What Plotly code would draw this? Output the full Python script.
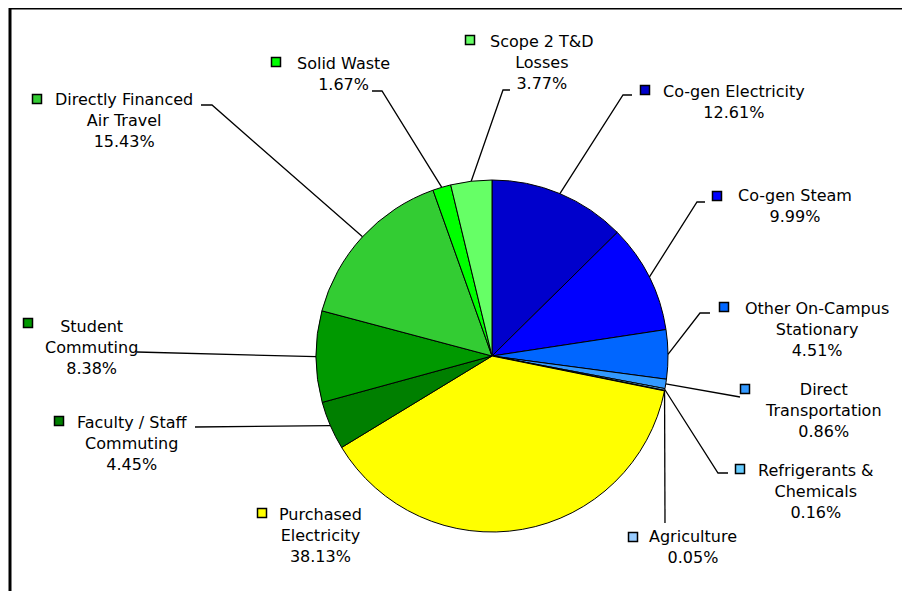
import math
import plotly.graph_objects as go

# ---------------- data ----------------
categories = [
    "Co-gen Electricity", "Co-gen Steam", "Other On-Campus Stationary",
    "Direct Transportation", "Refrigerants & Chemicals", "Agriculture",
    "Purchased Electricity", "Faculty / Staff Commuting", "Student Commuting",
    "Directly Financed Air Travel", "Solid Waste", "Scope 2 T&D Losses",
]
shares = [12.61, 9.99, 4.51, 0.86, 0.16, 0.05, 38.13, 4.45, 8.38, 15.43, 1.67, 3.77]
label_texts = [
    "Co-gen Electricity<br>12.61%",
    "Co-gen Steam<br>9.99%",
    "Other On-Campus<br>Stationary<br>4.51%",
    "Direct<br>Transportation<br>0.86%",
    "Refrigerants &<br>Chemicals<br>0.16%",
    "Agriculture<br>0.05%",
    "Purchased<br>Electricity<br>38.13%",
    "Faculty / Staff<br>Commuting<br>4.45%",
    "Student<br>Commuting<br>8.38%",
    "Directly Financed<br>Air Travel<br>15.43%",
    "Solid Waste<br>1.67%",
    "Scope 2 T&D<br>Losses<br>3.77%",
]
colors = ["#0000CC", "#0000FF", "#0066FF", "#3399FF", "#66CCFF", "#99CCFF",
          "#FFFF00", "#007F00", "#009900", "#33CC33", "#00FF00", "#66FF66"]

# ---------------- layout (pixels, page coordinates) ----------------
OFF = 8  # page body margin
W, H = 910 - OFF, 591 - OFF  # figure size so the page does not overflow
CX, CY, R = 492, 356, 176

# label block centres
label_pos = [(734, 102), (795, 206), (817, 329), (823, 411), (816, 491), (693, 547),
             (320, 535), (132, 443), (91, 347), (124, 121), (343, 74), (542, 62)]
# legend-key squares
key_pos = [(645, 90), (717, 196), (724, 307), (745, 389), (740, 469), (633, 537),
           (262, 513), (59, 421), (28, 323), (37, 99), (276, 62), (470, 40)]
# outer points of the leader lines (None = no leader line)
leader_out = [
    [(632, 95), (623, 95)],
    [(705, 202), (697, 202)],
    [(710, 313), (700, 313)],
    [(740, 397)],
    [(728, 473), (718, 473)],
    [(665, 523)],
    None,
    [(195, 427)],
    [(137, 352)],
    [(201, 105), (212, 105)],
    [(372, 91), (382, 91)],
    [(510, 90), (503, 90)],
]


def px(x, y):
    return (x - OFF) / W, 1 - (y - OFF) / H


dx0, dy0 = px(CX - R, CY + R)
dx1, dy1 = px(CX + R, CY - R)
fig = go.Figure(go.Pie(
    labels=categories, values=shares, sort=False, direction="clockwise",
    rotation=0, textinfo="none", hoverinfo="label+percent",
    marker=dict(colors=colors, line=dict(color="black", width=1)),
    domain=dict(x=[dx0, dx1], y=[dy0, dy1]),
    showlegend=False,
))

shapes = []
annotations = []
total = sum(shares)
cum = 0.0
for i, v in enumerate(shares):
    mid = (cum + v / 2) / total * 2 * math.pi
    cum += v
    ex, ey = CX + R * math.sin(mid), CY - R * math.cos(mid)
    if leader_out[i]:
        pts = leader_out[i] + [(ex, ey)]
        path = ""
        for j, (x, y) in enumerate(pts):
            qx, qy = px(x, y)
            path += ("M" if j == 0 else " L") + f"{qx:.5f},{qy:.5f}"
        shapes.append(dict(type="path", xref="paper", yref="paper", path=path,
                           line=dict(color="black", width=1.3)))
    kx, ky = key_pos[i]
    x0, y0 = px(kx - 4.5, ky + 4.5)
    x1, y1 = px(kx + 4.5, ky - 4.5)
    shapes.append(dict(type="rect", xref="paper", yref="paper", x0=x0, y0=y0, x1=x1, y1=y1,
                       fillcolor=colors[i], line=dict(color="black", width=1.5)))
    lx, ly = px(*label_pos[i])
    annotations.append(dict(x=lx, y=ly, xref="paper", yref="paper", text=label_texts[i],
                            showarrow=False, xanchor="center", yanchor="middle", align="center",
                            font=dict(family="DejaVu Sans", size=16, color="black")))

# chart frame
bx0, by0 = px(10, 8)
bx1, by1 = px(908.5, 620)
shapes.insert(0, dict(type="rect", xref="paper", yref="paper", x0=bx0, y0=by1, x1=bx1, y1=by0,
                      line=dict(color="black", width=3), fillcolor="rgba(0,0,0,0)", layer="below"))

fig.update_layout(
    width=W, height=H, margin=dict(l=0, r=0, t=0, b=0),
    paper_bgcolor="white", plot_bgcolor="white",
    shapes=shapes, annotations=annotations,
)

fig.write_html("out.html")
